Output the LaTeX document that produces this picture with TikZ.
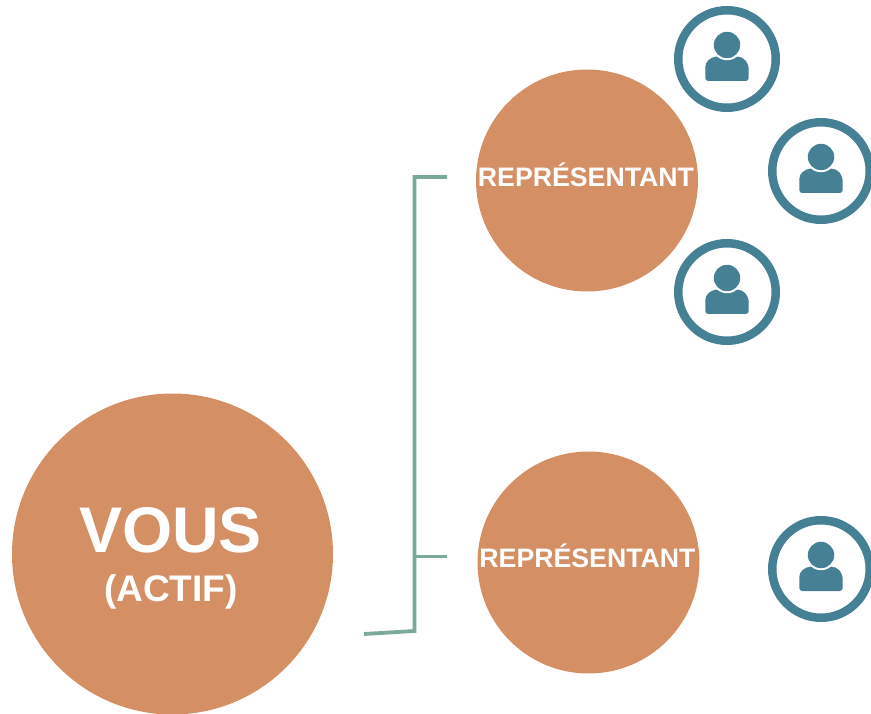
\documentclass[tikz,border=0pt]{standalone}
\usepackage{fontspec}
\setmainfont{Liberation Sans}
\definecolor{orangeC}{HTML}{D58F64}
\definecolor{tealC}{HTML}{468094}
\definecolor{lineC}{HTML}{7BA99A}
\tikzset{
  bigdisc/.style={circle,fill=orangeC,draw=none,inner sep=0pt},
  replabel/.style={text=white,font=\bfseries\fontsize{26.7}{27}\selectfont,inner sep=0pt},
  link/.style={draw=lineC,line width=3.8pt,line join=miter},
  ring/.style={circle,draw=tealC,line width=8.5pt,minimum size=97.5pt,inner sep=0pt,fill=white},
  pics/person/.style={code={
    \fill[tealC] (-21.7,22) [rounded corners=3pt] -- (-21.7,11) [rounded corners=0pt]
      .. controls (-21.7,3) and (-17,-2) .. (-10,-2.5)
      -- (10,-2.5)
      .. controls (17,-2) and (21.7,3) .. (21.7,11) [rounded corners=3pt] -- (21.7,22) -- cycle;
    \fill[white] (0,-14) circle (15.2);
    \fill[tealC] (0,-14) circle (13.2);
  }}
}
\begin{document}
\begin{tikzpicture}[x=1pt,y=-1pt]
\useasboundingbox (0,0) rectangle (871,714);
\node[bigdisc,minimum size=321pt] (vous) at (172.5,554) {};
\node[bigdisc,minimum size=222pt] (rep1) at (587,180.5) {};
\node[bigdisc,minimum size=222pt] (rep2) at (588.5,562.5) {};
\node[text=white,font=\bfseries\fontsize{64.5}{66}\selectfont,inner sep=0pt] (vt) at (170.5,530) {VOUS};
\node[text=white,font=\bfseries\fontsize{37}{37}\selectfont,inner sep=0pt] (at) at (171,591.5) {(ACTIF)};
\node[replabel] (r1t) at (586,174.5) {REPRÉSENTANT};
\node[replabel] (r2t) at (587.5,556) {REPRÉSENTANT};
\node[ring] (p1) at (727,59) {};
\node[ring] (p2) at (821,171) {};
\node[ring] (p3) at (727,292) {};
\node[ring] (p4) at (821,569) {};
\pic at (p1) {person};
\pic at (p2) {person};
\pic at (p3) {person};
\pic at (p4) {person};
\coordinate (start) at (364,634);
\coordinate (corner) at (414.5,631);
\coordinate (top) at (414.5,177);
\coordinate (mid) at (414.5,556.5);
\coordinate (e1) at (447,177);
\coordinate (e2) at (447,556.5);
\draw[link] (start) -- (corner) -- (top) -- (e1);
\draw[link] (mid) -- (e2);
\end{tikzpicture}
\end{document}
